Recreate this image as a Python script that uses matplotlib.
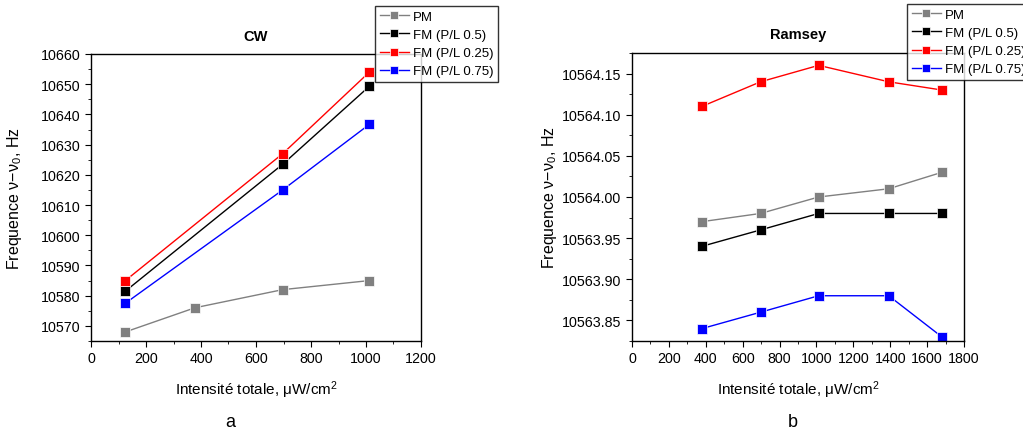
import matplotlib
matplotlib.use("Agg")
import matplotlib.pyplot as plt
from matplotlib.ticker import MultipleLocator, FormatStrFormatter

plt.rcParams['font.family'] = ['Liberation Sans', 'DejaVu Sans']
plt.rcParams['mathtext.fontset'] = 'custom'
plt.rcParams['mathtext.rm'] = 'Liberation Sans'
plt.rcParams['mathtext.it'] = 'Liberation Sans:italic'
plt.rcParams['mathtext.default'] = 'regular'

# CW data
cw_x_pm = [125, 378, 697, 1012]
cw_pm = [10568, 10576, 10582, 10585]
cw_x_fm = [125, 697, 1012]
cw_fm05 = [10581.5, 10623.5, 10649.3]
cw_fm025 = [10585, 10627, 10654]
cw_fm075 = [10577.5, 10615, 10636.7]

# Ramsey data
rm_x = [378, 697, 1012, 1392, 1680]
rm_pm = [10563.97, 10563.98, 10564.00, 10564.01, 10564.03]
rm_fm05 = [10563.94, 10563.96, 10563.98, 10563.98, 10563.98]
rm_fm025 = [10564.11, 10564.14, 10564.16, 10564.14, 10564.13]
rm_fm075 = [10563.84, 10563.86, 10563.88, 10563.88, 10563.83]

labels = ['PM', 'FM (P/L 0.5)', 'FM (P/L 0.25)', 'FM (P/L 0.75)']
colors = ['#808080', 'black', 'red', 'blue']

W, H = 1023, 435
fig = plt.figure(figsize=(W / 100, H / 100), dpi=100)

def add_ax(l, r, t, b):
    return fig.add_axes([l / W, 1 - b / H, (r - l) / W, (b - t) / H])

ax1 = add_ax(91, 421, 55, 342)
ax2 = add_ax(632, 964, 54, 342)

mk = dict(marker='s', markersize=6.5, markeredgecolor='white', markeredgewidth=0.5, linewidth=1)

series1 = [(cw_x_pm, cw_pm), (cw_x_fm, cw_fm05), (cw_x_fm, cw_fm025), (cw_x_fm, cw_fm075)]
series2 = [(rm_x, rm_pm), (rm_x, rm_fm05), (rm_x, rm_fm025), (rm_x, rm_fm075)]

for ax, series in ((ax1, series1), (ax2, series2)):
    for (x, y), c, lab in zip(series, colors, labels):
        ax.plot(x, y, color=c, markerfacecolor=c, label=lab, **mk)
    ax.tick_params(which='both', direction='out', top=False, right=False, labelsize=10.3)
    ax.tick_params(which='major', length=4)
    ax.tick_params(which='minor', length=2.5)
    ax.set_xlabel('Intensité totale, μW/cm$^2$', fontsize=11, labelpad=9)
    for s in ax.spines.values():
        s.set_linewidth(1)

ylab = 'Frequence ν−ν$_{\\mathit{0}}$, Hz'
ax1.set_ylabel(ylab, fontsize=11.5, labelpad=12)
ax2.set_ylabel(ylab, fontsize=11.5, labelpad=2)

ax1.set_xlim(0, 1200)
ax1.set_ylim(10565, 10660)
ax1.xaxis.set_major_locator(MultipleLocator(200))
ax1.xaxis.set_minor_locator(MultipleLocator(100))
ax1.yaxis.set_major_locator(MultipleLocator(10))
ax1.yaxis.set_minor_locator(MultipleLocator(5))
ax1.set_title('CW', fontweight='bold', fontsize=10.5, pad=10)

ax2.set_xlim(0, 1800)
ax2.set_ylim(10563.825, 10564.175)
ax2.xaxis.set_major_locator(MultipleLocator(200))
ax2.xaxis.set_minor_locator(MultipleLocator(100))
ax2.yaxis.set_major_locator(MultipleLocator(0.05))
ax2.yaxis.set_minor_locator(MultipleLocator(0.025))
ax2.yaxis.set_major_formatter(FormatStrFormatter('%.2f'))
ax2.set_title('Ramsey', fontweight='bold', fontsize=10.5, pad=11)

legkw = dict(loc='upper left', fontsize=9.5, frameon=True, fancybox=False, edgecolor='black',
             handlelength=2.2, handletextpad=0.3, borderpad=0.35, labelspacing=0.45, borderaxespad=0,
             markerscale=0.85)
h1, l1 = ax1.get_legend_handles_labels()
leg1 = fig.legend(h1, l1, bbox_to_anchor=(375 / W, 1 - 7 / H), **legkw)
leg1.get_frame().set_linewidth(1)
h2, l2 = ax2.get_legend_handles_labels()
leg2 = fig.legend(h2, l2, bbox_to_anchor=(907 / W, 1 - 5 / H), **legkw)
leg2.get_frame().set_linewidth(1)

fig.text(230 / W, 1 - 423 / H, 'a', fontsize=13, ha='center', va='center')
fig.text(793 / W, 1 - 423 / H, 'b', fontsize=13, ha='center', va='center')

fig.savefig('out.png', dpi=100)
